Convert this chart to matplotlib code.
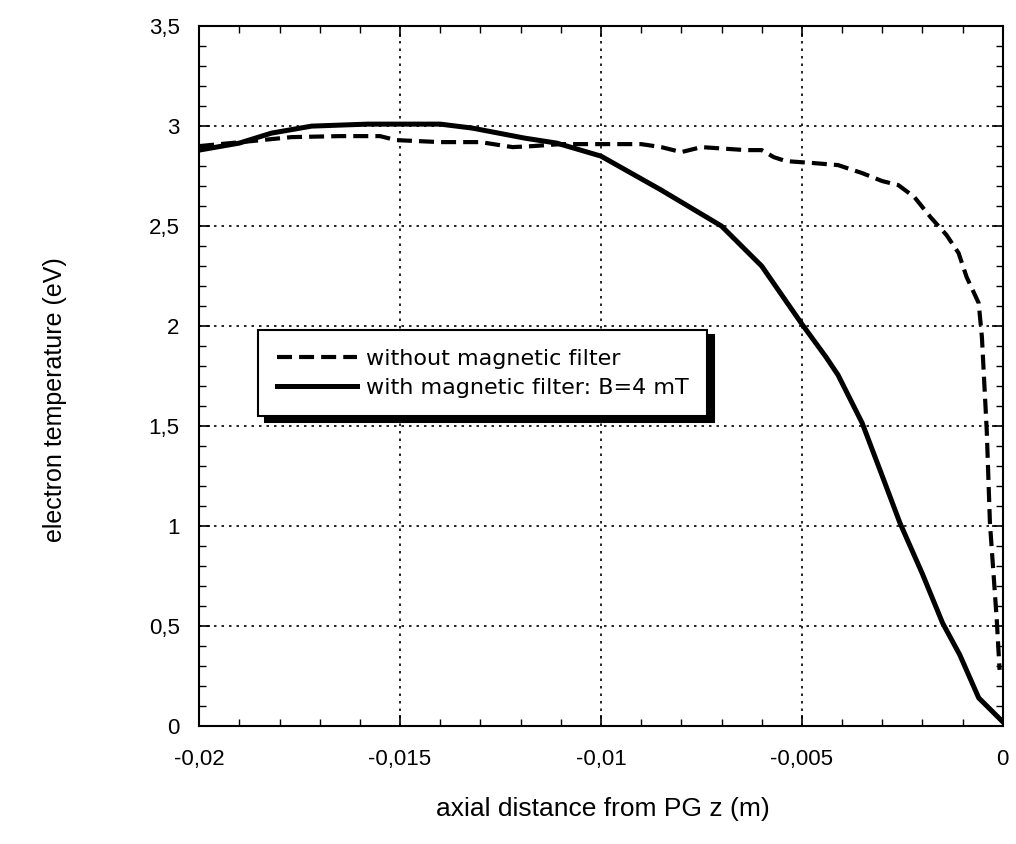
import matplotlib
matplotlib.use("Agg")
import matplotlib.pyplot as plt
from matplotlib.ticker import MultipleLocator, FixedLocator, FixedFormatter

# ---- data ----
x_with = [-0.02, -0.019, -0.0182, -0.0172, -0.0158, -0.015, -0.014, -0.0132, -0.0119,
          -0.0111, -0.01, -0.0085, -0.007, -0.006, -0.005, -0.0044, -0.0041, -0.0035,
          -0.003, -0.00256, -0.002, -0.0015, -0.00107, -0.0006, 0.0]
y_with = [2.88, 2.915, 2.965, 3.0, 3.01, 3.01, 3.01, 2.99, 2.94,
          2.915, 2.85, 2.68, 2.5, 2.3, 2.01, 1.845, 1.755, 1.515,
          1.25, 1.015, 0.76, 0.515, 0.355, 0.14, 0.02]

x_without = [-0.02, -0.0187, -0.0177, -0.0165, -0.0155, -0.0151, -0.014, -0.013, -0.0122,
             -0.0117, -0.011, -0.009, -0.0085, -0.008, -0.0075, -0.0064, -0.006, -0.0057,
             -0.0054, -0.0047, -0.0041, -0.0035, -0.003, -0.0026, -0.0022, -0.0018,
             -0.0014, -0.0011, -0.0009, -0.0006, -0.00052, -0.0004, -0.00032, -0.00015,
             -0.00008]
y_without = [2.9, 2.925, 2.945, 2.95, 2.95, 2.93, 2.92, 2.92, 2.895,
             2.9, 2.91, 2.91, 2.895, 2.87, 2.895, 2.88, 2.88, 2.845,
             2.825, 2.815, 2.805, 2.765, 2.725, 2.705, 2.645, 2.545,
             2.455, 2.365, 2.245, 2.115, 1.945, 1.48, 1.015, 0.53,
             0.28]

x_ticks = [-0.02, -0.015, -0.01, -0.005, 0.0]
x_tick_labels = ["-0,02", "-0,015", "-0,01", "-0,005", "0"]
y_ticks = [0, 0.5, 1, 1.5, 2, 2.5, 3, 3.5]
y_tick_labels = ["0", "0,5", "1", "1,5", "2", "2,5", "3", "3,5"]

label_without = "without magnetic filter"
label_with = "with magnetic filter: B=4 mT"
x_label = "axial distance from PG z (m)"
y_label = "electron temperature (eV)"

# ---- figure ----
plt.rcParams['font.family'] = ['DejaVu Sans']
fig = plt.figure(figsize=(10.16, 8.44), dpi=100)
ax = fig.add_axes([0.196, 0.140, 0.791, 0.829])

ax.plot(x_without, y_without, color='black', lw=3.0, linestyle=(0, (3.6, 1.7)),
        label=label_without, dash_capstyle='butt')
ax.plot(x_with, y_with, color='black', lw=3.6, linestyle='-', label=label_with)

ax.set_xlim(-0.02, 0.0)
ax.set_ylim(0, 3.5)

ax.xaxis.set_major_locator(FixedLocator(x_ticks))
ax.xaxis.set_major_formatter(FixedFormatter(x_tick_labels))
ax.yaxis.set_major_locator(FixedLocator(y_ticks))
ax.yaxis.set_major_formatter(FixedFormatter(y_tick_labels))
ax.xaxis.set_minor_locator(MultipleLocator(0.001))
ax.yaxis.set_minor_locator(MultipleLocator(0.1))

ax.tick_params(which='both', direction='in', top=True, right=True, colors='black',
               labelsize=16, labelfontfamily='Liberation Sans')
ax.tick_params(which='major', length=8, width=1.2)
ax.tick_params(axis='x', which='major', pad=17)
ax.tick_params(axis='y', which='major', pad=14)
ax.tick_params(which='minor', length=5, width=1.0)

for s in ax.spines.values():
    s.set_linewidth(1.5)
    s.set_color('black')

ax.grid(True, which='major', color='black', linestyle=(0, (1.5, 3)), linewidth=1.2)

ax.set_xlabel(x_label, fontsize=19, family=['Liberation Sans', 'DejaVu Sans'])
ax.set_ylabel(y_label, fontsize=18, family=['Liberation Sans', 'DejaVu Sans'])
ax.xaxis.set_label_coords(0.503, -0.102)
ax.yaxis.set_label_coords(-0.165, 0.466)

leg = ax.legend(loc='upper left', bbox_to_anchor=(0.073, 0.566), borderaxespad=0,
                frameon=True, fancybox=False, fontsize=16, handlelength=3.6,
                handletextpad=0.4, labelspacing=0.4, borderpad=0.85,
                shadow={'ox': 5, 'oy': -4, 'color': 'black', 'alpha': 1.0})
leg.get_frame().set_edgecolor('black')
leg.get_frame().set_linewidth(1.5)
leg.get_frame().set_facecolor('white')
leg.get_frame().set_alpha(1.0)

fig.savefig("out.png", dpi=100, facecolor='white')
